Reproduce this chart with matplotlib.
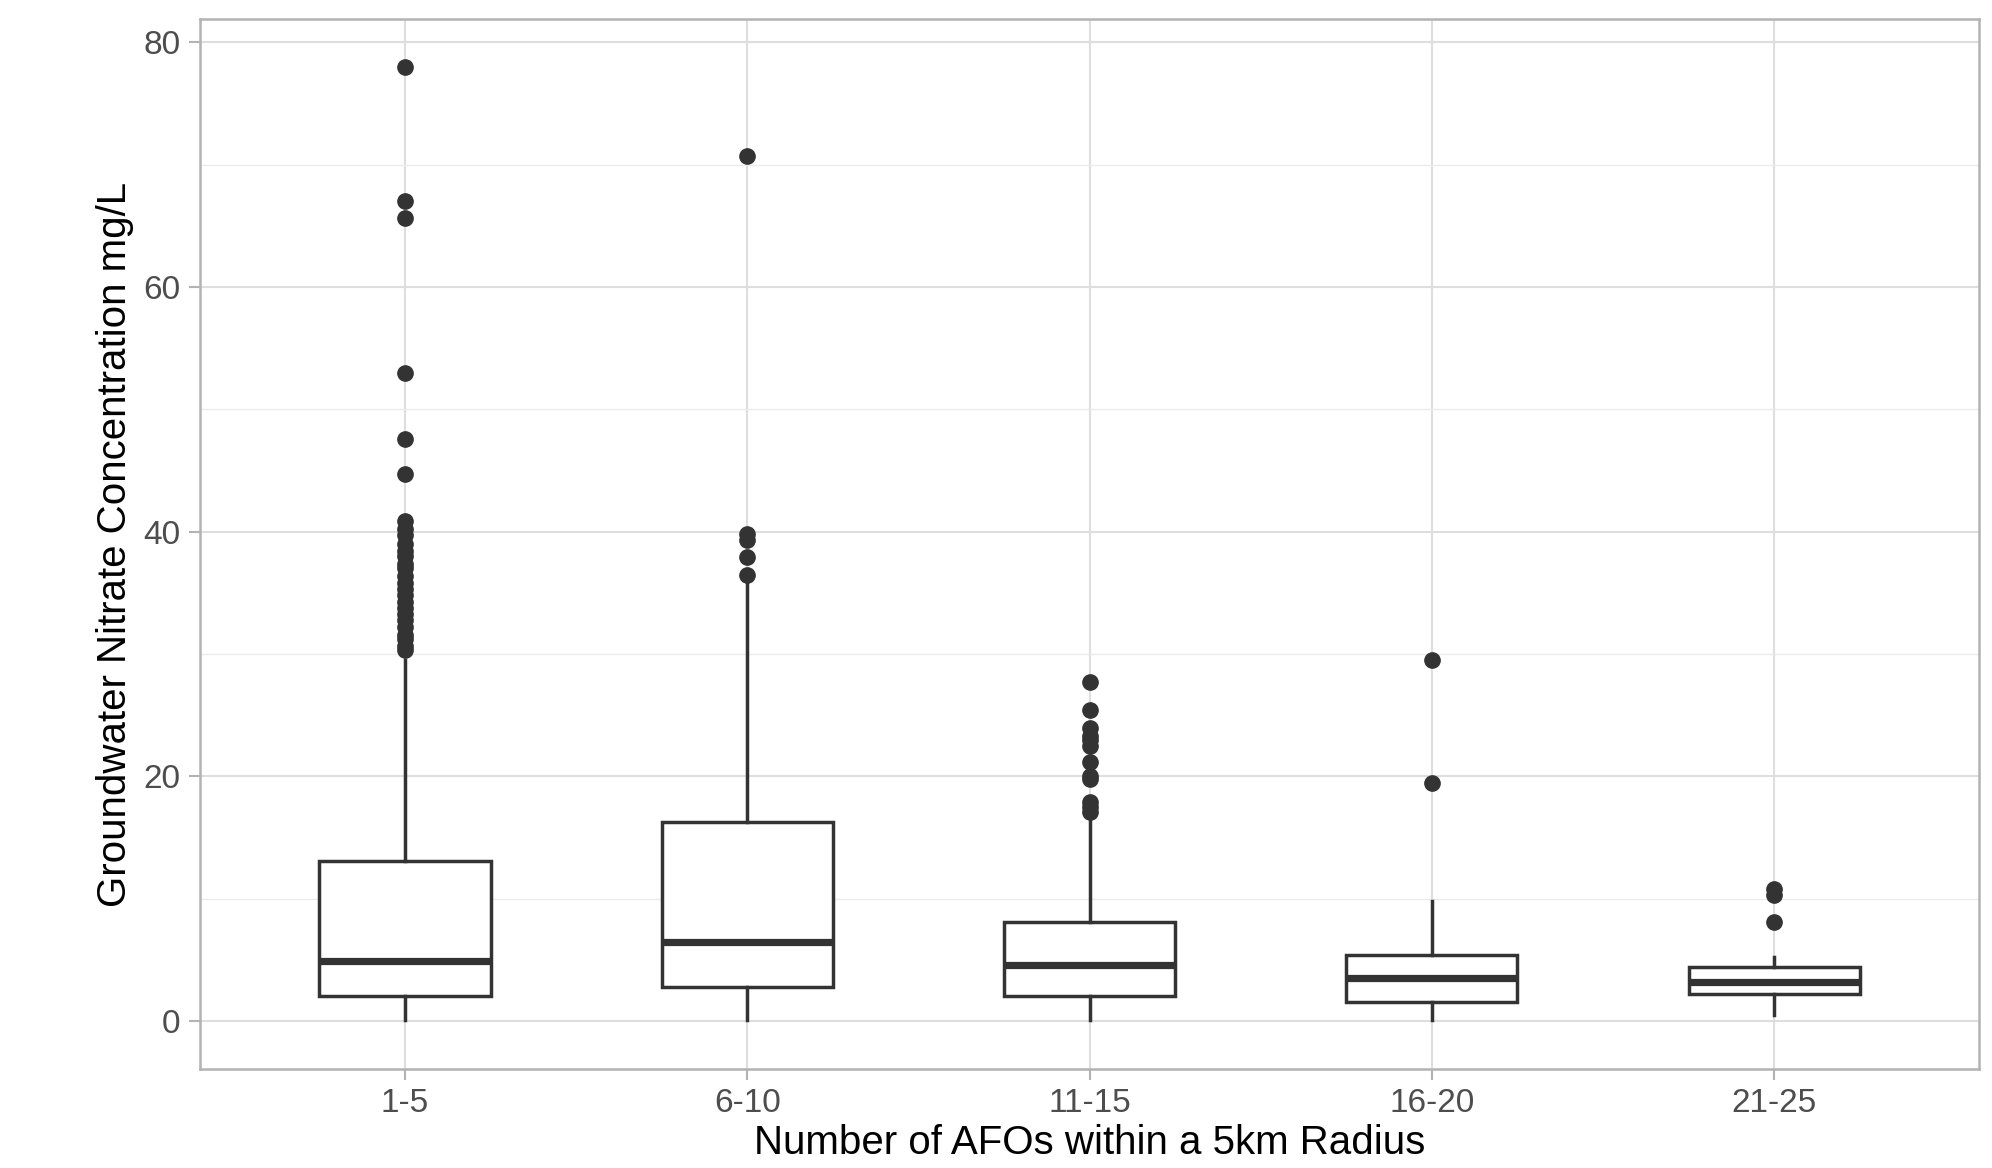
import numpy as np
import matplotlib
matplotlib.use("Agg")
import matplotlib.pyplot as plt

plt.rcParams['font.family'] = ['Liberation Sans', 'DejaVu Sans']

# box statistics (mg/L)
groups = ["1-5", "6-10", "11-15", "16-20", "21-25"]
whislo = [0.1, 0.1, 0.1, 0.1, 0.5]
q1 = [2.1, 2.8, 2.1, 1.6, 2.2]
med = [4.95, 6.45, 4.6, 3.55, 3.2]
q3 = [13.1, 16.3, 8.15, 5.4, 4.4]
whishi = [29.5, 35.9, 16.8, 9.8, 5.25]
fliers_1 = [30.3, 30.7, 31.2, 31.6, 32.2, 32.8, 33.3, 33.8, 34.3, 34.8, 35.3,
            35.8, 36.4, 37.0, 37.4, 38.0, 38.4, 39.0, 39.7, 40.2, 40.9,
            44.7, 47.6, 53.0, 65.6, 67.0, 78.0]
fliers_2 = [36.5, 37.9, 39.3, 39.8, 70.7]
fliers_3 = [17.1, 17.5, 17.9, 19.8, 20.0, 21.2, 22.5, 23.0, 23.3, 24.0, 25.4, 27.7]
fliers_4 = [19.5, 29.5]
fliers_5 = [8.1, 10.35, 10.8]
fliers = [fliers_1, fliers_2, fliers_3, fliers_4, fliers_5]

stats = []
for i in range(len(groups)):
    stats.append(dict(label=groups[i], whislo=whislo[i], q1=q1[i], med=med[i],
                      q3=q3[i], whishi=whishi[i], fliers=fliers[i]))

fig = plt.figure(figsize=(19.92, 11.68), dpi=100)
ax = fig.add_axes([0.1002, 0.0848, 0.8935, 0.8989])

dark = "#333333"
ax.bxp(stats, positions=np.arange(1, 6), widths=0.5, showcaps=False,
       patch_artist=True,
       boxprops=dict(facecolor="white", edgecolor=dark, linewidth=2.5),
       whiskerprops=dict(color=dark, linewidth=2.5),
       medianprops=dict(color=dark, linewidth=5.2, solid_capstyle="butt"),
       flierprops=dict(marker="o", markerfacecolor=dark, markeredgecolor=dark,
                       markersize=11, linestyle="none"),
       zorder=3)

ax.set_xlim(0.4, 5.6)
ax.set_ylim(-3.9, 81.9)
ax.set_yticks([0, 20, 40, 60, 80])
ax.set_yticks([10, 30, 50, 70], minor=True)
ax.set_xticks(np.arange(1, 6))
ax.set_xticklabels(groups)

ax.grid(True, which="major", color="#DEDEDE", linewidth=1.5, zorder=0)
ax.grid(True, which="minor", axis="y", color="#EBEBEB", linewidth=1.0, zorder=0)
ax.set_axisbelow(True)
for s in ax.spines.values():
    s.set_color("#B3B3B3")
    s.set_linewidth(1.8)

ax.tick_params(axis="both", which="major", length=8, width=1.5, color="#B3B3B3",
               labelcolor="#4D4D4D", labelsize=24, pad=6)
ax.tick_params(axis="both", which="minor", length=0)

ax.set_xlabel("Number of AFOs within a 5km Radius", fontsize=29, color="black", labelpad=3)
ax.set_ylabel("Groundwater Nitrate Concentration mg/L", fontsize=29, color="black", labelpad=6.5)

fig.savefig("out.png", dpi=100, facecolor="white")
